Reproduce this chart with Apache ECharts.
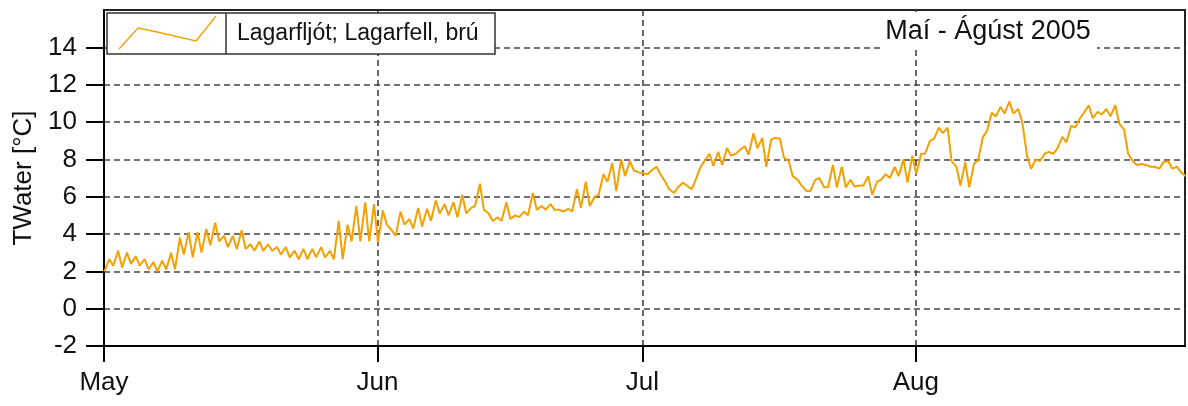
<!DOCTYPE html>
<html>
<head>
<meta charset="utf-8">
<script src="https://cdn.jsdelivr.net/npm/echarts@6/dist/echarts.min.js"></script>
<style>
  html, body { margin: 0; padding: 0; background: #fff; }
  #chart { width: 1188px; height: 406px; }
</style>
</head>
<body>
<div id="chart"></div>
<script>
// Water temperature, Lagarfljót at Lagarfell bridge, May - August 2005.
// Two readings per day (early morning and mid-afternoon), °C.
const mayAm = [2.0, 2.3, 2.2, 2.4, 2.3, 2.1, 2.0, 2.1, 2.1, 2.9, 2.75, 3.0, 3.4, 3.6, 3.3, 3.2,
               3.2, 3.1, 3.1, 3.1, 2.9, 2.75, 2.65, 2.65, 2.75, 2.75, 2.65, 2.65, 3.6, 3.6, 3.6];
const mayPm = [2.65, 3.1, 3.0, 2.8, 2.66, 2.5, 2.57, 3.0, 3.8, 4.1, 4.1, 4.27, 4.6, 3.9, 3.9, 4.2,
               3.45, 3.6, 3.45, 3.3, 3.3, 3.1, 3.2, 3.2, 3.3, 3.1, 4.7, 4.5, 5.5, 5.7, 5.6];
const junAm = [3.55, 4.5, 3.9, 4.5, 4.3, 4.4, 4.7, 5.1, 5.0, 4.9, 5.1, 5.5, 5.3, 4.7, 4.7,
               4.8, 4.9, 5.0, 5.3, 5.3, 5.3, 5.2, 5.2, 5.4, 5.5, 6.1, 6.8, 6.3, 7.1, 7.4];
const junPm = [5.26, 4.2, 5.2, 4.8, 5.4, 5.35, 5.8, 5.6, 5.7, 6.1, 5.4, 6.7, 5.1, 4.9, 5.7,
               5.0, 5.2, 6.2, 5.5, 5.6, 5.3, 5.35, 6.4, 6.8, 6.0, 7.2, 7.8, 8.0, 7.9, 7.3];
const julAm = [7.25, 7.4, 7.2, 6.4, 6.5, 6.6, 6.9, 7.9, 7.65, 7.7, 8.2, 8.5, 8.25, 8.6, 7.6, 9.15,
               8.1, 7.1, 6.6, 6.3, 7.0, 6.5, 6.5, 6.5, 6.55, 6.6, 6.1, 6.9, 7.0, 7.1, 6.75];
const julPm = [7.2, 7.6, 6.8, 6.2, 6.75, 6.4, 7.6, 8.3, 8.4, 8.6, 8.3, 8.7, 9.4, 9.15, 9.05, 9.1,
               7.9, 6.9, 6.3, 6.9, 6.5, 7.7, 7.6, 6.9, 6.6, 7.1, 6.8, 7.2, 7.6, 8.0, 8.2];
const augAm = [7.2, 8.3, 9.1, 9.4, 7.9, 6.6, 6.5, 7.95, 9.5, 10.3, 10.45, 10.45, 10.0, 7.5, 7.9, 8.4,
               8.6, 8.9, 9.7, 10.5, 10.2, 10.4, 10.3, 9.9, 8.3, 7.7, 7.7, 7.6, 7.85, 7.5, 7.3];
const augPm = [8.3, 9.0, 9.7, 9.7, 7.6, 7.85, 7.77, 9.2, 10.5, 10.8, 11.1, 10.7, 8.2, 8.0, 8.3, 8.3,
               9.2, 9.8, 10.2, 10.9, 10.55, 10.7, 10.9, 9.6, 7.9, 7.75, 7.6, 7.5, 7.9, 7.6, 7.1];

const monthLabels = ['May', 'Jun', 'Jul', 'Aug'];
const monthStarts = [0, 31, 61, 92];          // day offsets from 1 May
const yTicks = [-2, 0, 2, 4, 6, 8, 10, 12, 14];
const seriesName = 'Lagarfljót; Lagarfell, brú';
const periodTitle = 'Maí - Ágúst 2005';
const yName = 'TWater [°C]';

// x is measured in days since 1 May 2005
const AM = 0.05, PM = 0.6;
const months = [[mayAm, mayPm], [junAm, junPm], [julAm, julPm], [augAm, augPm]];
const points = [];
months.forEach(([am, pm], m) => {
  am.forEach((v, d) => {
    const day = monthStarts[m] + d;
    points.push([day + AM, v]);
    points.push([day + PM, pm[d]]);
  });
});

const FONT = "'Liberation Sans', Arial, sans-serif";
const ORANGE = '#F4A000';
const GRIDLINE = { show: true, lineStyle: { color: '#444', width: 1.6, type: [6, 4] } };

const chart = echarts.init(document.getElementById('chart'), null, { renderer: 'canvas' });
chart.setOption({
  animation: false,
  backgroundColor: '#fff',
  grid: {
    left: 104, right: 3, top: 10, bottom: 60,
    show: true, borderColor: '#222', borderWidth: 2, backgroundColor: 'transparent'
  },
  xAxis: {
    type: 'value',
    min: 0, max: 122.5,
    axisLine: { show: true, onZero: false, lineStyle: { color: '#000', width: 2 } },
    axisTick: { show: true, inside: false, length: 16, customValues: monthStarts,
                lineStyle: { color: '#000', width: 2 } },
    axisLabel: {
      customValues: monthStarts,
      formatter: v => monthLabels[monthStarts.indexOf(Math.round(v))] || '',
      color: '#111', fontFamily: FONT, fontSize: 26, margin: 24
    },
    splitLine: GRIDLINE
  },
  yAxis: {
    type: 'value',
    min: -2, max: 16, interval: 2,
    name: yName, nameLocation: 'middle', nameGap: 67, nameRotate: 90,
    nameTextStyle: { color: '#111', fontFamily: FONT, fontSize: 26 },
    axisLine: { show: true, onZero: false, lineStyle: { color: '#000', width: 2 } },
    axisTick: { show: true, inside: false, length: 18, customValues: yTicks,
                lineStyle: { color: '#000', width: 2 } },
    axisLabel: {
      customValues: yTicks,
      color: '#111', fontFamily: FONT, fontSize: 26, margin: 27
    },
    splitLine: GRIDLINE
  },
  series: [{
    name: seriesName,
    type: 'line',
    data: points,
    showSymbol: false,
    symbol: 'none',
    lineStyle: { color: ORANGE, width: 2 },
    z: 3
  }],
  graphic: [
    // legend box: line sample + series name
    { type: 'rect', z: 100, shape: { x: 107, y: 13, width: 388, height: 41 },
      style: { fill: '#fff', stroke: '#333', lineWidth: 1.5 } },
    { type: 'line', z: 101, shape: { x1: 226, y1: 13, x2: 226, y2: 54 },
      style: { stroke: '#333', lineWidth: 1.5 } },
    { type: 'polyline', z: 101,
      shape: { points: [[119, 49], [138, 28], [157, 32], [196, 41], [216, 16]] },
      style: { stroke: ORANGE, lineWidth: 1.3, fill: null } },
    { type: 'text', z: 101, x: 237, y: 34,
      style: { text: seriesName, fill: '#111', font: '23px ' + FONT, verticalAlign: 'middle' } },
    // period title on a white plate
    { type: 'rect', z: 100, shape: { x: 880, y: 12, width: 217, height: 37 },
      style: { fill: '#fff' } },
    { type: 'text', z: 101, x: 988, y: 32,
      style: { text: periodTitle, fill: '#111', font: '27px ' + FONT,
               align: 'center', verticalAlign: 'middle' } }
  ]
});
</script>
</body>
</html>
